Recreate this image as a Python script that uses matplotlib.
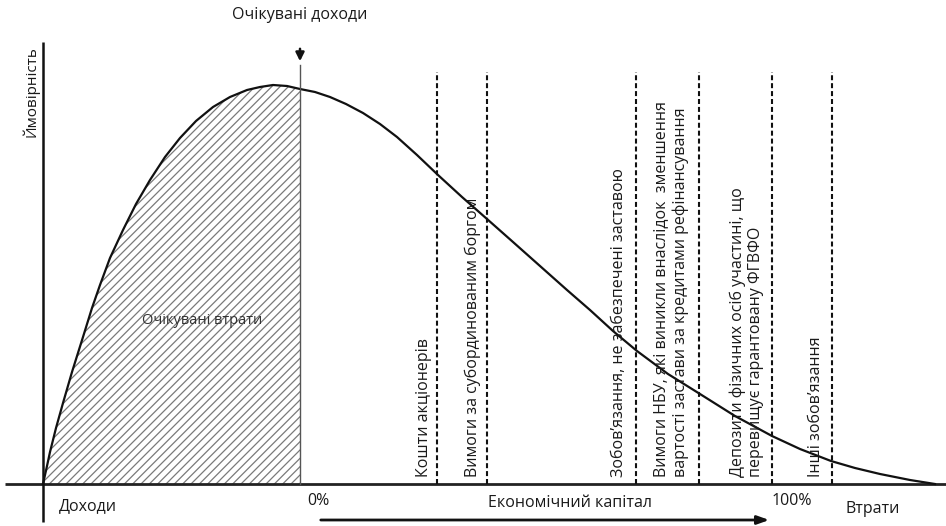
import matplotlib
matplotlib.use("Agg")
import matplotlib.pyplot as plt

plt.rcParams['font.family'] = ['Open Sans', 'DejaVu Sans']
plt.rcParams['hatch.linewidth'] = 0.9

# ---- data: loss distribution (horizontal position, density height) ----
curve_x = [43, 47, 50, 56, 63, 72, 83, 92, 100, 110, 123, 136, 150, 165, 180,
           196, 213, 230, 247, 260, 273, 287, 300, 315, 330, 346, 363, 380,
           397, 417, 438, 462, 487, 513, 540, 567, 590, 613, 637, 668, 700,
           735, 772, 800, 831, 855, 880, 910, 935]
curve_y = [0, 18, 32, 56, 81, 112, 147, 176, 199, 226, 254, 280, 304, 327, 346,
           363, 377, 387, 394, 397, 399, 398, 395, 392, 387, 380, 371, 360,
           347, 329, 309, 287, 265, 242, 218, 194, 174, 153, 133, 110, 90,
           68, 48, 35, 23, 16, 10, 4, 0]

expected_x = 300           # expected income / 0 %
full_capital_x = 772       # 100 %

tranche_x = [437, 487, 636, 699, 772, 832]
tranche_labels = [
    "Кошти акціонерів",
    "Вимоги за субординованим боргом",
    "Зобов’язання, не забезпечені заставою",
    "Вимоги НБУ, які виникли внаслідок  зменшення\nвартості застави за кредитами рефінансування",
    "Депозити фізичних осіб участині, що\nперевищує гарантовану ФГВФО",
    "Інші зобов’язання",
]
label_x = [424, 473, 619, 671, 747, 816]

fig = plt.figure(figsize=(9.46, 5.26), dpi=100)
ax = fig.add_axes([0, 0, 1, 1])
ax.set_xlim(0, 946)
ax.set_ylim(-42, 484)
ax.axis('off')

TXT = '#1a1a1a'

# axes lines
ax.plot([5, 946], [0, 0], color='#222222', lw=2.0, solid_capstyle='butt')
ax.plot([43, 43], [-38, 442], color='#111111', lw=1.8, solid_capstyle='butt')

# hatched expected-loss area
hx = [x for x in curve_x if x <= expected_x]
hy = curve_y[:len(hx)]
ax.fill_between(hx, 0, hy, facecolor='none', edgecolor='#7a7a7a',
                hatch='////', linewidth=0)

# distribution curve
ax.plot(curve_x, curve_y, color='#111111', lw=1.6, solid_joinstyle='round')

# expected income line
ax.plot([expected_x, expected_x], [0, 419], color='#555555', lw=1.0)

# dashed tranche lines
for x in tranche_x:
    ax.plot([x, x], [0, 412], color='#111111', lw=1.5,
            linestyle=(0, (2.4, 1.4)))

for x, lab in zip(label_x, tranche_labels):
    ax.text(x, 7, lab, rotation=90, ha='center', va='bottom',
            fontsize=11.5, color=TXT, multialignment='left', linespacing=1.2)

# top annotation
ax.text(300, 469, "Очікувані доходи", ha='center', va='center',
        fontsize=11.5, color=TXT)
ax.annotate('', xy=(300, 420), xytext=(300, 438),
            arrowprops=dict(arrowstyle='-|>,head_length=0.5,head_width=0.25',
                            color='#111111', lw=1.8))

# y label
ax.text(31, 392, "Ймовірність", rotation=90, ha='center', va='center',
        fontsize=11, color=TXT)

# area label
ax.text(202, 163, "Очікувані втрати", ha='center', va='center',
        fontsize=10.5, color='#333333')

# bottom labels
ax.text(88, -22, "Доходи", ha='center', va='center', fontsize=11.5, color=TXT)
ax.text(318, -17, "0%", ha='center', va='center', fontsize=11.5, color=TXT)
ax.text(570, -19, "Економічний капітал", ha='center', va='center',
        fontsize=11.5, color=TXT)
ax.text(792, -17, "100%", ha='center', va='center', fontsize=11.5, color=TXT)
ax.text(873, -25, "Втрати", ha='center', va='center', fontsize=11.5, color=TXT)

ax.annotate('', xy=(full_capital_x, -36), xytext=(318, -36),
            arrowprops=dict(arrowstyle='-|>,head_length=0.7,head_width=0.25',
                            color='#111111', lw=2.0))

fig.savefig('out.png', dpi=100)
